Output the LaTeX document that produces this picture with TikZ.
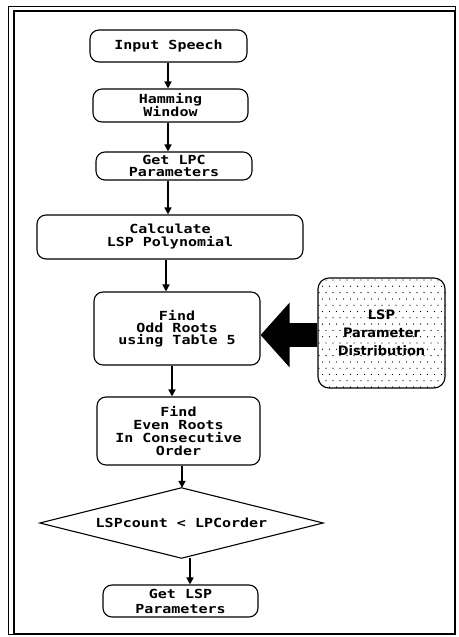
\documentclass[tikz,border=0pt]{standalone}
\usepackage{fontspec}
\usetikzlibrary{arrows.meta,backgrounds}
\newfontfamily\monofont[FakeStretch=1.2]{DejaVu Sans Mono}
\newfontfamily\sansbold{DejaVu Sans}
\tikzset{
  box/.style={draw, line width=1.1pt, rounded corners=9pt, align=center, inner sep=0pt,
    font=\monofont\bfseries\fontsize{12.5}{13}\selectfont},
  arr/.style={line width=1.6pt, -{Triangle[width=7pt,length=7pt]}},
}
\begin{document}
\begin{tikzpicture}[x=1pt,y=-1pt]
\useasboundingbox (0,0) rectangle (458,637);
% frame
\draw[line width=1pt] (8,6) rectangle (455,634);
\draw[line width=1.2pt] (14,11) rectangle (455,634);

\node[box, minimum width=157pt, minimum height=32pt] (in) at (168.5,46) {Input Speech};
\node[box, minimum width=155pt, minimum height=33pt] (ham) at (170.5,105.5) {Hamming\\Window};
\node[box, minimum width=156pt, minimum height=28pt, font=\monofont\bfseries\fontsize{12.5}{12}\selectfont] (lpc) at (174,166) {Get LPC\\Parameters};
\node[box, minimum width=266pt, minimum height=44pt] (calc) at (170,237) {Calculate\\LSP Polynomial};
\node[box, minimum width=166pt, minimum height=73pt, font=\monofont\bfseries\fontsize{12.5}{12}\selectfont] (odd) at (177,328.5) {Find\\Odd Roots\\using Table 5};
\node[box, minimum width=163pt, minimum height=68pt] (even) at (178.5,431) {Find\\Even Roots\\In Consecutive\\Order};
\node[minimum width=283pt, minimum height=70pt, inner sep=0pt,
  font=\monofont\bfseries\fontsize{12.5}{13}\selectfont] (dec) at (181.5,523) {LSPcount < LPCorder};
\draw[line width=1.1pt] (dec.north) -- (dec.east) -- (dec.south) -- (dec.west) -- cycle;
\node[box, minimum width=155pt, minimum height=32pt, font=\monofont\bfseries\fontsize{12.5}{15}\selectfont] (get) at (180.5,601) {Get LSP\\Parameters};

\node[draw, line width=1.1pt, rounded corners=11pt, minimum width=127pt, minimum height=110pt,
  align=center, inner sep=0pt, font=\sansbold\bfseries\fontsize{13}{18}\selectfont] (lsp) at (381.5,333)
  {LSP\\Parameter\\Distribution};
\begin{scope}[on background layer]
  \clip[rounded corners=11pt] (lsp.south west) rectangle (lsp.north east);
  \foreach \r in {0,...,17} {
    \pgfmathsetmacro{\yy}{280+\r*6.3}
    \pgfmathsetmacro{\off}{mod(\r,2)*3.5}
    \foreach \c in {0,...,18} {
      \fill ({319+\off+\c*7},\yy) circle (0.65pt);
    }
  }
\end{scope}

% connectors
\draw[arr] (in.south -| 168,0) -- (ham.north -| 168,0);
\draw[arr] (ham.south -| 168,0) -- (lpc.north -| 168,0);
\draw[arr] (lpc.south -| 168,0) -- (calc.north -| 168,0);
\draw[arr] (calc.south -| 166,0) -- (odd.north -| 166,0);
\draw[arr] (odd.south -| 172,0) -- (even.north -| 172,0);
\draw[arr] (even.south -| 182,0) -- (dec.north -| 182,0);
\draw[arr] (dec.south -| 190,0) -- (get.north -| 190,0);

% big arrow
\draw[line width=24pt, -{Triangle[width=63pt,length=29pt]}] (lsp.west |- 0,335) -- (odd.east |- 0,335);
\end{tikzpicture}
\end{document}
